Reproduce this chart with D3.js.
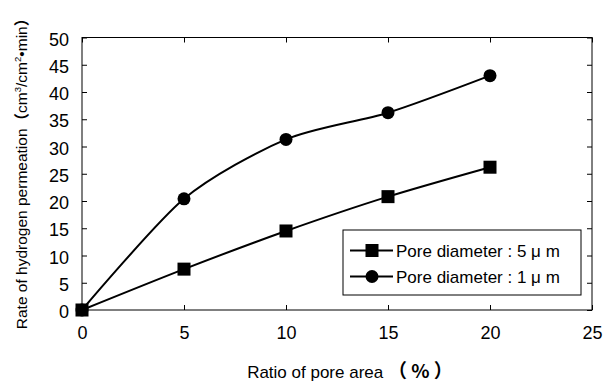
<!DOCTYPE html>
<html>
<head>
<meta charset="utf-8">
<script src="https://cdn.jsdelivr.net/npm/d3@7.9.0/dist/d3.min.js"></script>
<style>
  body { margin: 0; background: #fff; }
  text { font-family: "Liberation Sans", Arial, sans-serif; fill: #000; }
</style>
</head>
<body>
<svg id="chart" width="603" height="385"></svg>
<script>
const poreArea = [0, 5, 10, 15, 20];
const pore5um = [0, 7.5, 14.5, 20.8, 26.2];
const pore1um = [0, 20.4, 31.3, 36.2, 43.0];
const xTicks = [0, 5, 10, 15, 20, 25];
const yTicks = [0, 5, 10, 15, 20, 25, 30, 35, 40, 45, 50];
const seriesNames = ["Pore diameter : 5 μ m", "Pore diameter : 1 μ m"];

const svg = d3.select("#chart");
const plotL = 82, plotR = 592, plotT = 37.5, plotB = 310;

const x = d3.scaleLinear().domain([0, 25]).range([plotL, plotR]);
const y = d3.scaleLinear().domain([0, 50]).range([plotB, plotT]);

// frame
svg.append("rect")
    .attr("x", plotL).attr("y", plotT)
    .attr("width", plotR - plotL).attr("height", plotB - plotT)
    .attr("fill", "none").attr("stroke", "#000").attr("stroke-width", 1);

// inward ticks on all four sides
const tickLen = 5;
svg.append("g")
    .attr("transform", `translate(0, ${plotB})`)
    .call(d3.axisBottom(x).tickValues(xTicks).tickSize(-tickLen).tickPadding(16))
    .call(g => g.select(".domain").remove())
    .selectAll("text").style("font-size", "18px");
svg.append("g")
    .attr("transform", `translate(0, ${plotT})`)
    .call(d3.axisTop(x).tickValues(xTicks).tickSize(-tickLen).tickFormat(""))
    .call(g => g.select(".domain").remove());
svg.append("g")
    .attr("transform", `translate(${plotL}, 0)`)
    .call(d3.axisLeft(y).tickValues(yTicks).tickSize(-tickLen).tickPadding(13))
    .call(g => g.select(".domain").remove())
    .selectAll("text").style("font-size", "18px").attr("dy", "0.42em");
svg.append("g")
    .attr("transform", `translate(${plotR}, 0)`)
    .call(d3.axisRight(y).tickValues(yTicks).tickSize(-tickLen).tickFormat(""))
    .call(g => g.select(".domain").remove());
svg.selectAll(".tick line").attr("stroke", "#000");

const line = d3.line()
    .x(d => x(d[0]))
    .y(d => y(d[1]))
    .curve(d3.curveCardinal.tension(0.2));

const s5 = poreArea.map((v, i) => [v, pore5um[i]]);
const s1 = poreArea.map((v, i) => [v, pore1um[i]]);

[s5, s1].forEach(s => {
    svg.append("path")
        .datum(s)
        .attr("d", line)
        .attr("fill", "none")
        .attr("stroke", "#000")
        .attr("stroke-width", 2);
});

const sq = 13, cr = 6.5;
svg.selectAll("rect.m5")
    .data(s5)
    .enter()
    .append("rect")
    .attr("class", "m5")
    .attr("x", d => x(d[0]) - sq / 2)
    .attr("y", d => y(d[1]) - sq / 2)
    .attr("width", sq).attr("height", sq)
    .attr("fill", "#000");
svg.selectAll("circle.m1")
    .data(s1)
    .enter()
    .append("circle")
    .attr("class", "m1")
    .attr("cx", d => x(d[0]))
    .attr("cy", d => y(d[1]))
    .attr("r", cr)
    .attr("fill", "#000");

// legend
const lg = svg.append("g").attr("transform", "translate(343, 230)");
lg.append("rect")
    .attr("width", 238).attr("height", 65)
    .attr("fill", "#fff").attr("stroke", "#000").attr("stroke-width", 1);
seriesNames.forEach((name, i) => {
    const yy = 20.5 + i * 26;
    lg.append("line")
        .attr("x1", 7).attr("x2", 50)
        .attr("y1", yy).attr("y2", yy)
        .attr("stroke", "#000").attr("stroke-width", 2);
    if (i === 0) {
        lg.append("rect")
            .attr("x", 29 - sq / 2).attr("y", yy - sq / 2)
            .attr("width", sq).attr("height", sq).attr("fill", "#000");
    } else {
        lg.append("circle")
            .attr("cx", 29).attr("cy", yy).attr("r", cr).attr("fill", "#000");
    }
    lg.append("text")
        .attr("x", 53).attr("y", yy)
        .attr("dy", "0.36em")
        .style("font-size", "17px")
        .text(name);
});

// axis titles
const xt = svg.append("text")
    .attr("x", 350).attr("y", 378)
    .style("text-anchor", "middle")
    .style("font-size", "17px");
xt.append("tspan").text("Ratio of pore area  ");
xt.append("tspan")
    .style("font-weight", "bold")
    .style("font-size", "19px")
    .style("font-family", "'Noto Sans CJK SC', sans-serif")
    .text("（ % ）");

const yt = svg.append("text")
    .attr("transform", "translate(27, 170) rotate(-90)")
    .style("text-anchor", "middle")
    .style("font-size", "15.5px");
yt.append("tspan").text("Rate of hydrogen permeation");
yt.append("tspan")
    .style("font-weight", "bold")
    .style("font-family", "'Noto Sans CJK SC', sans-serif")
    .text("（");
yt.append("tspan").text("cm");
yt.append("tspan").attr("dy", -6).style("font-size", "9.5px").text("3");
yt.append("tspan").attr("dy", 6).text("/cm");
yt.append("tspan").attr("dy", -6).style("font-size", "9.5px").text("2");
yt.append("tspan").attr("dy", 6).text("•min");
yt.append("tspan")
    .style("font-weight", "bold")
    .style("font-family", "'Noto Sans CJK SC', sans-serif")
    .text("）");
</script>
</body>
</html>
